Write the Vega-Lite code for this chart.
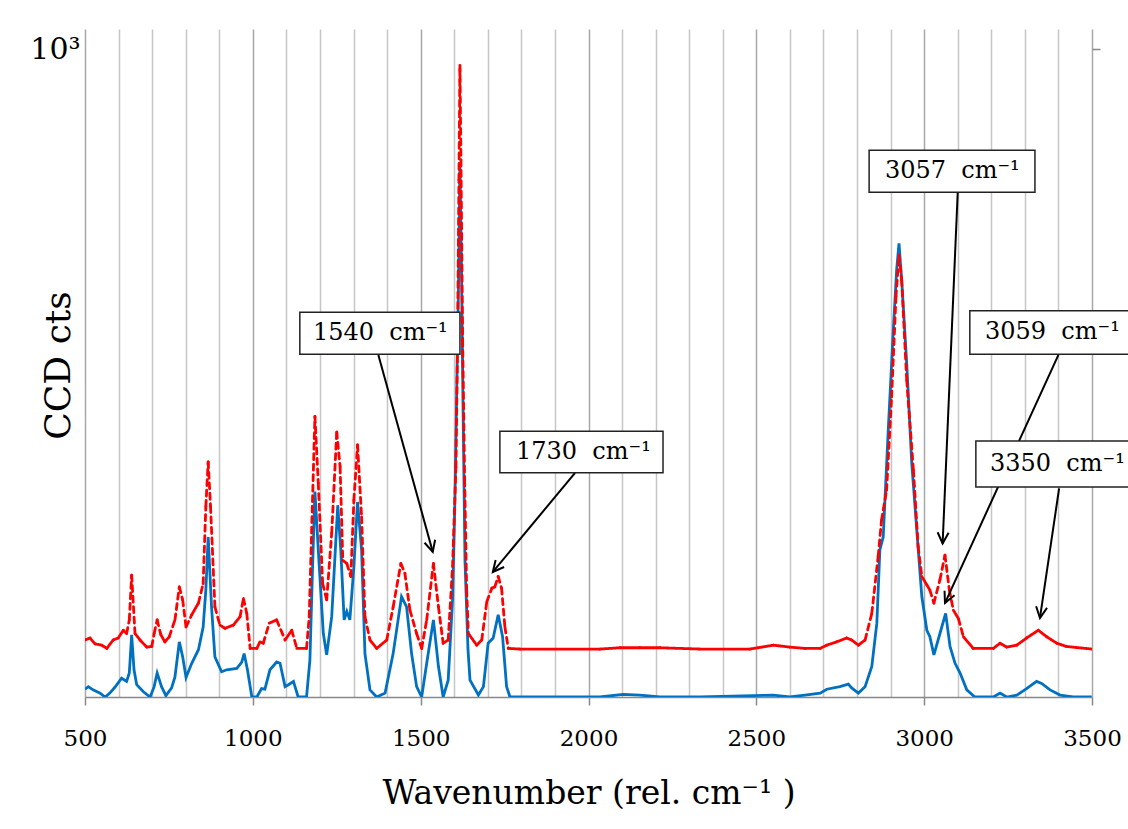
{
  "$schema": "https://vega.github.io/schema/vega-lite/v6.json",
  "width": 1007,
  "height": 668,
  "autosize": {"type": "none"},
  "padding": {"left": 85, "top": 29, "right": 36, "bottom": 132},
  "background": "white",
  "config": {"view": {"stroke": null}},
  "datasets": {
    "blue": [
      {"wn":500,"cts":12},{"wn":510,"cts":16},{"wn":524,"cts":11},{"wn":545,"cts":6},{"wn":560,"cts":0},{"wn":574,"cts":6},{"wn":589,"cts":15},{"wn":609,"cts":29},{"wn":624,"cts":24},{"wn":632,"cts":37},{"wn":639,"cts":96},{"wn":646,"cts":42},{"wn":654,"cts":19},{"wn":674,"cts":8},{"wn":694,"cts":0},{"wn":706,"cts":16},{"wn":715,"cts":37},{"wn":728,"cts":16},{"wn":741,"cts":2},{"wn":758,"cts":14},{"wn":768,"cts":31},{"wn":781,"cts":85},{"wn":791,"cts":62},{"wn":801,"cts":30},{"wn":818,"cts":52},{"wn":838,"cts":73},{"wn":852,"cts":108},{"wn":860,"cts":165},{"wn":867,"cts":247},{"wn":877,"cts":139},{"wn":887,"cts":62},{"wn":907,"cts":39},{"wn":922,"cts":42},{"wn":952,"cts":44},{"wn":967,"cts":54},{"wn":974,"cts":67},{"wn":984,"cts":42},{"wn":997,"cts":0},{"wn":1012,"cts":0},{"wn":1026,"cts":13},{"wn":1036,"cts":12},{"wn":1051,"cts":42},{"wn":1071,"cts":54},{"wn":1081,"cts":52},{"wn":1096,"cts":16},{"wn":1106,"cts":19},{"wn":1121,"cts":24},{"wn":1135,"cts":0},{"wn":1160,"cts":0},{"wn":1170,"cts":57},{"wn":1178,"cts":201},{"wn":1185,"cts":317},{"wn":1195,"cts":227},{"wn":1210,"cts":98},{"wn":1220,"cts":65},{"wn":1235,"cts":124},{"wn":1253,"cts":296},{"wn":1262,"cts":227},{"wn":1272,"cts":119},{"wn":1280,"cts":132},{"wn":1289,"cts":119},{"wn":1301,"cts":201},{"wn":1312,"cts":301},{"wn":1324,"cts":227},{"wn":1334,"cts":67},{"wn":1349,"cts":11},{"wn":1369,"cts":0},{"wn":1394,"cts":6},{"wn":1418,"cts":67},{"wn":1443,"cts":155},{"wn":1458,"cts":139},{"wn":1473,"cts":67},{"wn":1488,"cts":16},{"wn":1503,"cts":0},{"wn":1518,"cts":52},{"wn":1538,"cts":119},{"wn":1553,"cts":47},{"wn":1567,"cts":0},{"wn":1582,"cts":26},{"wn":1595,"cts":150},{"wn":1602,"cts":304},{"wn":1608,"cts":489},{"wn":1613,"cts":644},{"wn":1617,"cts":821},{"wn":1622,"cts":644},{"wn":1626,"cts":458},{"wn":1632,"cts":211},{"wn":1641,"cts":73},{"wn":1647,"cts":26},{"wn":1672,"cts":3},{"wn":1687,"cts":16},{"wn":1701,"cts":83},{"wn":1716,"cts":91},{"wn":1731,"cts":127},{"wn":1744,"cts":93},{"wn":1756,"cts":16},{"wn":1766,"cts":0},{"wn":2034,"cts":0},{"wn":2103,"cts":4},{"wn":2153,"cts":3},{"wn":2213,"cts":0},{"wn":2332,"cts":0},{"wn":2550,"cts":3},{"wn":2600,"cts":0},{"wn":2645,"cts":3},{"wn":2690,"cts":6},{"wn":2710,"cts":12},{"wn":2749,"cts":16},{"wn":2774,"cts":20},{"wn":2784,"cts":14},{"wn":2804,"cts":6},{"wn":2824,"cts":16},{"wn":2844,"cts":47},{"wn":2859,"cts":114},{"wn":2868,"cts":227},{"wn":2878,"cts":247},{"wn":2893,"cts":412},{"wn":2908,"cts":566},{"wn":2918,"cts":659},{"wn":2925,"cts":700},{"wn":2933,"cts":644},{"wn":2948,"cts":515},{"wn":2963,"cts":361},{"wn":2978,"cts":258},{"wn":2993,"cts":155},{"wn":3008,"cts":103},{"wn":3017,"cts":93},{"wn":3029,"cts":65},{"wn":3047,"cts":98},{"wn":3064,"cts":129},{"wn":3077,"cts":78},{"wn":3092,"cts":52},{"wn":3107,"cts":37},{"wn":3127,"cts":11},{"wn":3151,"cts":0},{"wn":3206,"cts":0},{"wn":3226,"cts":6},{"wn":3246,"cts":0},{"wn":3276,"cts":3},{"wn":3305,"cts":13},{"wn":3335,"cts":24},{"wn":3350,"cts":21},{"wn":3375,"cts":11},{"wn":3405,"cts":3},{"wn":3444,"cts":0},{"wn":3499,"cts":0}
    ],
    "red": [
      {"wn":500,"cts":88},{"wn":515,"cts":91},{"wn":530,"cts":82},{"wn":550,"cts":80},{"wn":565,"cts":75},{"wn":584,"cts":88},{"wn":599,"cts":91},{"wn":614,"cts":103},{"wn":624,"cts":98},{"wn":632,"cts":119},{"wn":639,"cts":188},{"wn":649,"cts":98},{"wn":664,"cts":88},{"wn":684,"cts":77},{"wn":699,"cts":78},{"wn":706,"cts":98},{"wn":715,"cts":119},{"wn":726,"cts":96},{"wn":738,"cts":85},{"wn":751,"cts":93},{"wn":768,"cts":119},{"wn":781,"cts":170},{"wn":791,"cts":150},{"wn":801,"cts":108},{"wn":818,"cts":127},{"wn":838,"cts":145},{"wn":852,"cts":175},{"wn":860,"cts":294},{"wn":867,"cts":363},{"wn":874,"cts":294},{"wn":887,"cts":139},{"wn":902,"cts":111},{"wn":917,"cts":106},{"wn":942,"cts":111},{"wn":962,"cts":124},{"wn":972,"cts":152},{"wn":982,"cts":129},{"wn":992,"cts":75},{"wn":1012,"cts":75},{"wn":1021,"cts":85},{"wn":1031,"cts":83},{"wn":1049,"cts":114},{"wn":1071,"cts":119},{"wn":1096,"cts":88},{"wn":1116,"cts":103},{"wn":1131,"cts":75},{"wn":1160,"cts":75},{"wn":1168,"cts":124},{"wn":1175,"cts":253},{"wn":1185,"cts":433},{"wn":1195,"cts":330},{"wn":1208,"cts":175},{"wn":1220,"cts":150},{"wn":1235,"cts":253},{"wn":1250,"cts":409},{"wn":1260,"cts":355},{"wn":1268,"cts":211},{"wn":1280,"cts":206},{"wn":1292,"cts":186},{"wn":1301,"cts":304},{"wn":1312,"cts":389},{"wn":1324,"cts":278},{"wn":1334,"cts":124},{"wn":1349,"cts":88},{"wn":1369,"cts":75},{"wn":1399,"cts":88},{"wn":1418,"cts":139},{"wn":1441,"cts":206},{"wn":1453,"cts":191},{"wn":1468,"cts":134},{"wn":1488,"cts":98},{"wn":1503,"cts":75},{"wn":1518,"cts":119},{"wn":1538,"cts":206},{"wn":1553,"cts":139},{"wn":1567,"cts":83},{"wn":1582,"cts":88},{"wn":1595,"cts":201},{"wn":1605,"cts":355},{"wn":1610,"cts":551},{"wn":1614,"cts":798},{"wn":1617,"cts":975},{"wn":1620,"cts":829},{"wn":1625,"cts":551},{"wn":1631,"cts":335},{"wn":1637,"cts":165},{"wn":1642,"cts":98},{"wn":1667,"cts":80},{"wn":1682,"cts":88},{"wn":1697,"cts":147},{"wn":1712,"cts":168},{"wn":1721,"cts":170},{"wn":1731,"cts":186},{"wn":1741,"cts":168},{"wn":1751,"cts":108},{"wn":1761,"cts":75},{"wn":1796,"cts":74},{"wn":2034,"cts":74},{"wn":2094,"cts":76},{"wn":2153,"cts":76},{"wn":2213,"cts":76},{"wn":2332,"cts":74},{"wn":2481,"cts":74},{"wn":2551,"cts":80},{"wn":2600,"cts":77},{"wn":2645,"cts":75},{"wn":2690,"cts":75},{"wn":2710,"cts":80},{"wn":2739,"cts":85},{"wn":2769,"cts":91},{"wn":2784,"cts":88},{"wn":2804,"cts":80},{"wn":2824,"cts":88},{"wn":2844,"cts":129},{"wn":2863,"cts":217},{"wn":2873,"cts":273},{"wn":2888,"cts":319},{"wn":2903,"cts":463},{"wn":2916,"cts":618},{"wn":2925,"cts":682},{"wn":2933,"cts":644},{"wn":2948,"cts":489},{"wn":2968,"cts":350},{"wn":2982,"cts":232},{"wn":2993,"cts":186},{"wn":3008,"cts":173},{"wn":3017,"cts":165},{"wn":3029,"cts":145},{"wn":3047,"cts":181},{"wn":3062,"cts":219},{"wn":3075,"cts":165},{"wn":3087,"cts":134},{"wn":3102,"cts":121},{"wn":3117,"cts":93},{"wn":3146,"cts":75},{"wn":3206,"cts":75},{"wn":3226,"cts":83},{"wn":3246,"cts":77},{"wn":3276,"cts":80},{"wn":3305,"cts":91},{"wn":3340,"cts":103},{"wn":3365,"cts":93},{"wn":3395,"cts":83},{"wn":3424,"cts":78},{"wn":3499,"cts":74}
    ],
    "notes": [
      {"label":"1540  cm⁻¹","bx":1140,"bx2":1617,"by":594,"by2":529,"tx":1179,"ty":562,"ax":1374,"ay":528,"hx":1536,"hy":224},
      {"label":"1730  cm⁻¹","bx":1736,"bx2":2222,"by":410,"by2":346,"tx":1784,"ty":378,"ax":1960,"ay":346,"hx":1715,"hy":193},
      {"label":"3057  cm⁻¹","bx":2836,"bx2":3330,"by":844,"by2":779,"tx":2883,"ty":812,"ax":3100,"ay":779,"hx":3055,"hy":237},
      {"label":"3059  cm⁻¹","bx":3136,"bx2":3628,"by":596,"by2":529,"tx":3181,"ty":563,"ax":3400,"ay":528,"hx":3062,"hy":145},
      {"label":"3350  cm⁻¹","bx":3154,"bx2":3628,"by":395,"by2":324,"tx":3196,"ty":360,"ax":3402,"ay":322,"hx":3345,"hy":122}
    ]
  },
  "resolve": {"axis": {"y": "independent"}},
  "layer": [
    {
      "data": {"name": "blue"},
      "mark": {"type": "line", "color": "#0070c0", "strokeWidth": 2.8, "clip": true},
      "encoding": {
        "x": {
          "field": "wn", "type": "quantitative",
          "scale": {"domain": [500, 3500], "nice": false, "zero": false},
          "axis": {
            "values": [500,600,700,800,900,1000,1100,1200,1300,1400,1500,1600,1700,1800,1900,2000,2100,2200,2300,2400,2500,2600,2700,2800,2900,3000,3100,3200,3300,3400,3500],
            "tickCount": 40,
            "format": "d",
            "labelExpr": "datum.value % 500 === 0 ? datum.label : ''",
            "labelOverlap": false,
            "labelFlush": false,
            "grid": true,
            "gridColor": {"condition": {"test": "datum.value % 500 === 0", "value": "#a8a8a8"}, "value": "#c6c6c6"},
            "gridWidth": 1.5,
            "tickOpacity": {"condition": {"test": "datum.value % 500 === 0", "value": 1}, "value": 0},
            "tickColor": "#888888",
            "tickSize": 8,
            "tickWidth": 1.5,
            "domainColor": "#888888",
            "domainWidth": 1.5,
            "labelFont": "DejaVu Serif",
            "labelFontSize": 23,
            "labelColor": "#000000",
            "labelPadding": 22,
            "title": "Wavenumber (rel. cm⁻¹ )",
            "titleFont": "DejaVu Serif",
            "titleFontSize": 33,
            "titleFontWeight": "normal",
            "titleColor": "#000000",
            "titleY": 96,
            "titleBaseline": "middle"
          }
        },
        "y": {
          "field": "cts", "type": "quantitative",
          "scale": {"domain": [0, 1031], "nice": false, "zero": false},
          "axis": {
            "orient": "left",
            "values": [1000],
            "labelExpr": "'10³'",
            "ticks": false,
            "domain": false,
            "grid": false,
            "labelFont": "DejaVu Serif",
            "labelFontSize": 30,
            "labelColor": "#000000",
            "labelPadding": 5,
            "title": "CCD cts",
            "titleFont": "DejaVu Serif",
            "titleFontSize": 36,
            "titleFontWeight": "normal",
            "titleColor": "#000000",
            "titleX": -27,
            "titleY": 336,
            "titleBaseline": "middle"
          }
        }
      }
    },
    {
      "data": {"name": "red"},
      "transform": [
        {"window": [{"op": "lead", "field": "wn", "as": "wn2"}, {"op": "lead", "field": "cts", "as": "cts2"}], "sort": [{"field": "wn", "order": "ascending"}]},
        {"filter": "isValid(datum.wn2)"},
        {"calculate": "abs((datum.cts2 - datum.cts) * 0.648) > 2 * abs((datum.wn2 - datum.wn) * 0.3357)", "as": "steep"}
      ],
      "mark": {"type": "rule", "color": "#ff0000", "strokeWidth": 2.8, "strokeCap": "round", "clip": true},
      "encoding": {
        "x": {"field": "wn", "type": "quantitative"},
        "x2": {"field": "wn2"},
        "y": {
          "field": "cts", "type": "quantitative",
          "axis": {
            "orient": "right",
            "values": [1000],
            "labels": false,
            "domain": false,
            "grid": false,
            "ticks": true,
            "tickSize": 8,
            "tickColor": "#888888",
            "tickWidth": 1.5,
            "title": null
          }
        },
        "y2": {"field": "cts2"},
        "strokeDash": {"condition": {"test": "datum.steep", "value": [6, 4.5]}, "value": [1, 0]}
      }
    },
    {
      "data": {"name": "notes"},
      "mark": {"type": "rule", "color": "#000000", "strokeWidth": 2},
      "encoding": {
        "x": {"field": "ax", "type": "quantitative"},
        "y": {"field": "ay", "type": "quantitative", "axis": null},
        "x2": {"field": "hx"},
        "y2": {"field": "hy"}
      }
    },
    {
      "data": {"name": "notes"},
      "transform": [
        {"calculate": "atan2(-(datum.hx - datum.ax) * 0.3357, -(datum.hy - datum.ay) * 0.648) * 180 / PI", "as": "ang"}
      ],
      "mark": {"type": "point", "shape": "M-0.5,-1L0,0L0.5,-1", "filled": false, "color": "#000000", "strokeWidth": 2, "size": 484, "opacity": 1},
      "encoding": {
        "x": {"field": "hx", "type": "quantitative"},
        "y": {"field": "hy", "type": "quantitative", "axis": null},
        "angle": {"field": "ang", "type": "quantitative", "scale": null}
      }
    },
    {
      "data": {"name": "notes"},
      "mark": {"type": "rect", "fill": "#ffffff", "stroke": "#222222", "strokeWidth": 1.5},
      "encoding": {
        "x": {"field": "bx", "type": "quantitative"},
        "x2": {"field": "bx2"},
        "y": {"field": "by", "type": "quantitative", "axis": null},
        "y2": {"field": "by2"}
      }
    },
    {
      "data": {"name": "notes"},
      "transform": [
        {"calculate": "replace(datum.label, '  ', '\u00a0\u00a0')", "as": "lab"}
      ],
      "mark": {"type": "text", "font": "DejaVu Serif", "fontSize": 24, "align": "left", "baseline": "middle", "color": "#000000"},
      "encoding": {
        "x": {"field": "tx", "type": "quantitative"},
        "y": {"field": "ty", "type": "quantitative", "axis": null},
        "text": {"field": "lab"}
      }
    }
  ]
}
